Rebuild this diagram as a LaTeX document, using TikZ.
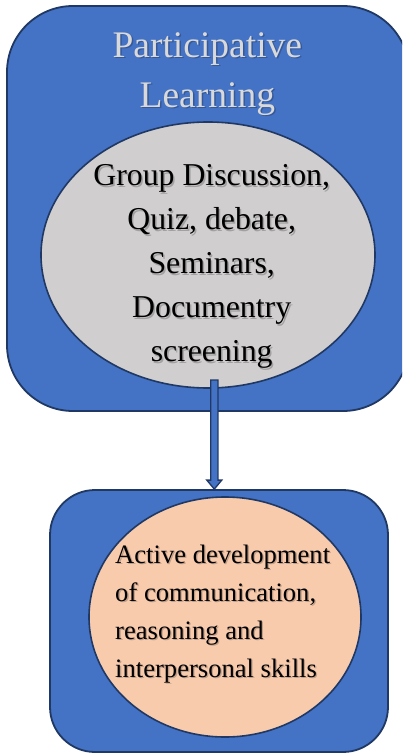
\documentclass[tikz,border=0pt]{standalone}
\usepackage{fontspec}
\setmainfont{Liberation Serif}
\usetikzlibrary{calc,shapes.geometric}
\definecolor{boxblue}{HTML}{4472C4}
\definecolor{navy}{HTML}{203864}
\definecolor{ellgray}{HTML}{D0CECE}
\definecolor{peach}{HTML}{F8CBAD}
\definecolor{titlegray}{HTML}{D9D9D9}
\tikzset{
  outerbox/.style={draw=navy, line width=1.8pt, fill=boxblue, rectangle, inner sep=0pt},
  oval/.style={draw=navy, line width=1.6pt, ellipse, inner sep=0pt},
  shadowtxt/.style={text=black, opacity=0.22, inner sep=0pt},
  titletxt/.style={text=titlegray, inner sep=0pt, align=center, font=\fontsize{37.5}{50}\selectfont},
  graytxt/.style={text=black, inner sep=0pt, align=center, font=\fontsize{31.8}{44}\selectfont},
  peachtxt/.style={text=black, inner sep=0pt, align=left, font=\fontsize{26.6}{38}\selectfont},
  arrowbody/.style={draw=navy, line width=1.3pt, fill=boxblue, line join=miter}
}
\begin{document}
\begin{tikzpicture}[x=1pt,y=-1pt]
\useasboundingbox (0,0) rectangle (402,754);
\clip (0,0) rectangle (402,754);
% top box
\node[outerbox, rounded corners=66pt, minimum width=402pt, minimum height=405pt] (topbox) at (208,208.5) {};
\node[oval, fill=ellgray, minimum width=334pt, minimum height=266pt] (topell) at (208,255) {};
% bottom box
\node[outerbox, rounded corners=45pt, minimum width=338pt, minimum height=262pt] (botbox) at (219,621) {};
\node[oval, fill=peach, minimum width=272pt, minimum height=240pt] (botell) at (225,617) {};
% title
\node[shadowtxt, titletxt, text=black] (titlesh) at (208.8,75.5) {Participative\\Learning};
\node[titletxt] (title) at (207.3,74) {Participative\\Learning};
% gray ellipse text
\node[shadowtxt, graytxt, text=black] (graysh) at (213.2,268) {Group Discussion,\\Quiz, debate,\\Seminars,\\Documentry\\screening};
\node[graytxt] (graytext) at (211.7,266.5) {Group Discussion,\\Quiz, debate,\\Seminars,\\Documentry\\screening};
% peach ellipse text
\node[shadowtxt, peachtxt, text=black, anchor=west] (peachsh) at (116.3,615.5) {Active development\\of communication,\\reasoning and\\interpersonal skills};
\node[peachtxt, anchor=west] (peachtext) at (115,614) {Active development\\of communication,\\reasoning and\\interpersonal skills};
% arrow
\coordinate (as) at (214.3,380);
\coordinate (ae) at (as |- botbox.north);
\path[arrowbody] ($(as)+(-3.6,0)$) -- ($(ae)+(-3.6,-9)$) -- ($(ae)+(-7.5,-9)$) -- (ae)
  -- ($(ae)+(7.5,-9)$) -- ($(ae)+(3.6,-9)$) -- ($(as)+(3.6,0)$) -- cycle;
\end{tikzpicture}
\end{document}
